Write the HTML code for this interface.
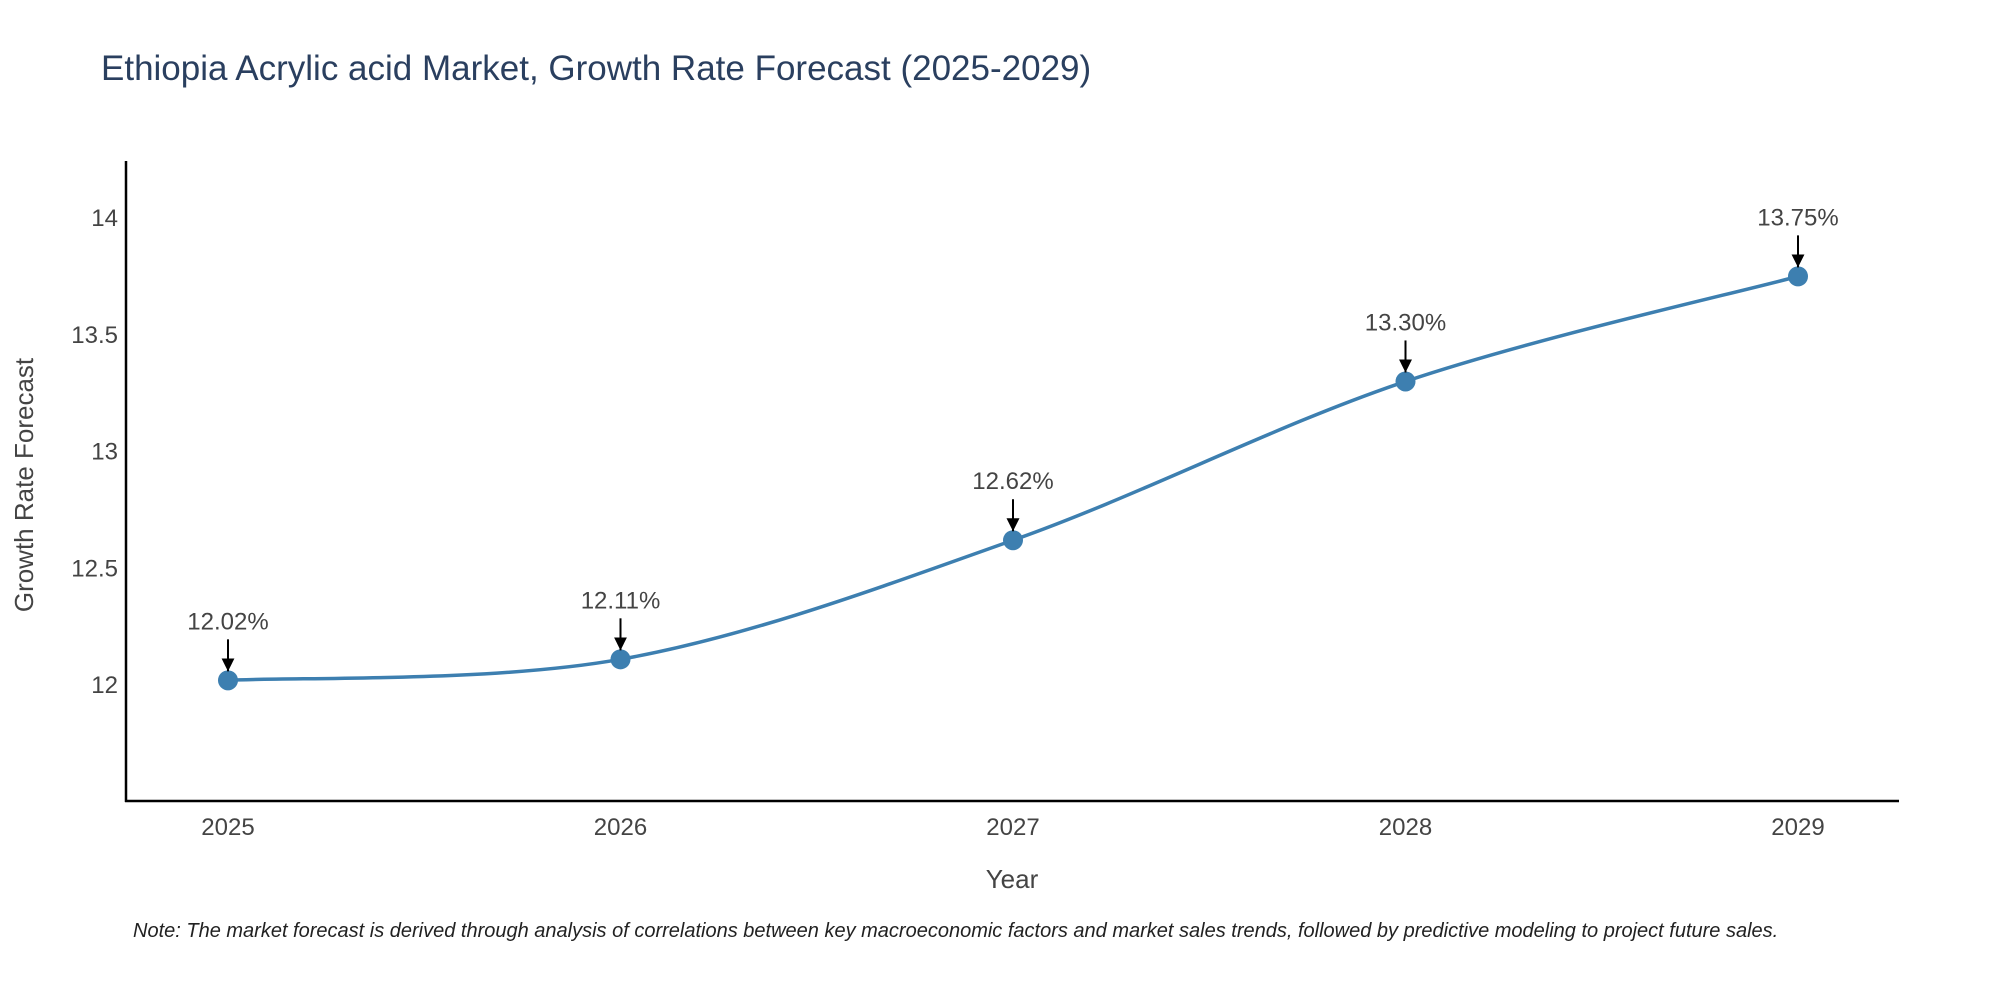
<!DOCTYPE html>
<html><head><meta charset="utf-8"><style>
body{margin:0;background:#fff;}
svg text{font-family:"Liberation Sans",sans-serif;}
</style></head><body>
<svg id="chart" width="2000" height="1000" viewBox="0 0 2000 1000" xmlns="http://www.w3.org/2000/svg">
<defs><marker id="ah2" viewBox="0 0 10 10" markerWidth="13" markerHeight="13" refX="5" refY="10" orient="0" markerUnits="userSpaceOnUse"><path d="M0,0 L10,0 L5,10 Z" fill="#000"/></marker></defs>
<text x="101" y="80" font-size="35" fill="#2a3f5f">Ethiopia Acrylic acid Market, Growth Rate Forecast (2025-2029)</text>
<g id="yticks"></g><g id="xticks"></g>
<line x1="126" y1="161" x2="126" y2="802" stroke="#000" stroke-width="2.5"/>
<line x1="125" y1="801" x2="1899" y2="801" stroke="#000" stroke-width="2.5"/>
<path id="line" fill="none" stroke="#3d7fb0" stroke-width="3.5"/>
<g id="pts"></g>
<text x="1012" y="888" font-size="26" fill="#444" text-anchor="middle">Year</text>
<text transform="translate(33,485) rotate(-90)" font-size="26" fill="#444" text-anchor="middle">Growth Rate Forecast</text>
<text x="133" y="937" font-size="20" font-style="italic" fill="#222">Note: The market forecast is derived through analysis of correlations between key macroeconomic factors and market sales trends, followed by predictive modeling to project future sales.</text>
</svg>
<script>
const years=[2025,2026,2027,2028,2029];
const values=[12.02,12.11,12.62,13.30,13.75];
const labels=["12.02%","12.11%","12.62%","13.30%","13.75%"];
const yTicks=[12,12.5,13,13.5,14];
const yTickLabels=["12","12.5","13","13.5","14"];
const NS="http://www.w3.org/2000/svg";
function xS(v){return 228+(v-2025)*(1798-228)/4;}
function yS(v){return 685-(v-12)*(685-218)/2;}
function mk(t,a,p){const e=document.createElementNS(NS,t);for(const k in a)e.setAttribute(k,a[k]);p.appendChild(e);return e;}
const yg=document.getElementById('yticks'),xg=document.getElementById('xticks'),pg=document.getElementById('pts');
yTicks.forEach((v,i)=>{const t=mk('text',{x:118,y:yS(v)+8,'font-size':24,fill:'#444','text-anchor':'end'},yg);t.textContent=yTickLabels[i];

});
years.forEach(v=>{const t=mk('text',{x:xS(v),y:835,'font-size':24,fill:'#444','text-anchor':'middle'},xg);t.textContent=String(v);

});
const P=years.map((y,i)=>[xS(y),yS(values[i])]);
let d='M'+P[0][0]+','+P[0][1];
for(let i=0;i<P.length-1;i++){const p0=P[Math.max(0,i-1)],p1=P[i],p2=P[i+1],p3=P[Math.min(P.length-1,i+2)];const k=1/6;
d+=' C'+(p1[0]+(p2[0]-p0[0])*k)+','+(p1[1]+(p2[1]-p0[1])*k)+' '+(p2[0]-(p3[0]-p1[0])*k)+','+(p2[1]-(p3[1]-p1[1])*k)+' '+p2[0]+','+p2[1];}
document.getElementById('line').setAttribute('d',d);
P.forEach((p,i)=>{const c=mk('circle',{cx:p[0],cy:p[1],r:10,fill:'#3d7fb0'},pg);


const l=mk('line',{x1:p[0],y1:p[1]-41,x2:p[0],y2:p[1]-9,stroke:'#000','stroke-width':2,'marker-end':'url(#ah2)'},pg);


const t=mk('text',{x:p[0],y:p[1]-51,'font-size':24,fill:'#444','text-anchor':'middle'},pg);t.textContent=labels[i];

});
</script>
</body></html>
